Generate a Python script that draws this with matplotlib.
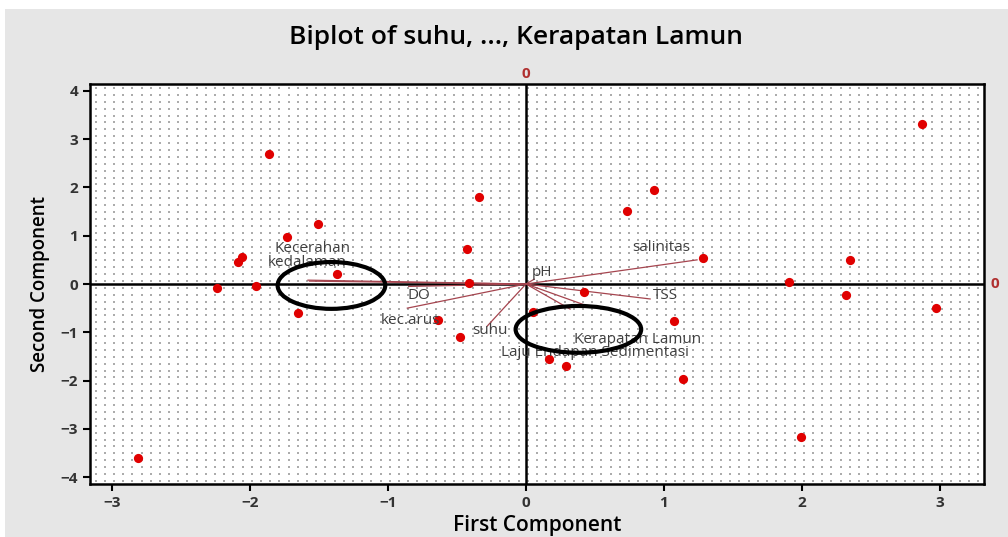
import numpy as np
import matplotlib.pyplot as plt
from matplotlib.patches import Ellipse, Rectangle

# scores (first, second component)
pc1 = [2.87, -1.86, 0.93, -0.34, 0.73, -1.51, -1.73, -0.43, -2.06, -2.09,
       1.28, 2.35, -1.37, -0.41, 1.91, -2.24, -1.96, 2.32, 0.42, 2.97,
       -1.65, -0.64, 0.05, 1.07, -0.48, 0.17, 0.29, 1.14, 1.99, -2.81]
pc2 = [3.32, 2.69, 1.95, 1.80, 1.51, 1.24, 0.97, 0.73, 0.56, 0.46,
       0.54, 0.50, 0.21, 0.02, 0.04, -0.08, -0.04, -0.23, -0.17, -0.50,
       -0.60, -0.75, -0.58, -0.77, -1.10, -1.55, -1.70, -1.97, -3.17, -3.61]

# loading vectors
var_names = ['suhu', 'pH', 'salinitas', 'DO', 'kec.arus', 'Kecerahan',
             'kedalaman', 'TSS', 'Kerapatan Lamun', 'Laju Endapan Sedimentasi']
load1 = [-0.28, 0.06, 1.24, -0.85, -0.86, -1.58, -1.57, 0.90, 0.45, 0.32]
load2 = [-0.87, 0.10, 0.50, -0.05, -0.50, 0.08, 0.06, -0.31, -0.46, -0.52]
# label anchor positions
lab_x = [-0.39, 0.04, 0.77, -0.86, -1.05, -1.82, -1.87, 0.92, 0.35, -0.18]
lab_y = [-0.97, 0.24, 0.75, -0.24, -0.75, 0.73, 0.45, -0.24, -1.14, -1.42]

# ellipses drawn on the chart: centre x, centre y, width, height
ell_x = [-1.41, 0.38]
ell_y = [-0.03, -0.94]
ell_w = [0.78, 0.91]
ell_h = [0.97, 0.97]

fig = plt.figure(figsize=(10.08, 5.37), dpi=100)
fig.patch.set_facecolor('#e6e6e6')
# white margins from the page crop
fig.add_artist(Rectangle((0, 1 - 9 / 537), 1, 9 / 537, transform=fig.transFigure,
                         facecolor='white', edgecolor='none'))
fig.add_artist(Rectangle((0, 0), 5 / 1008, 1, transform=fig.transFigure,
                         facecolor='white', edgecolor='none'))

ax = fig.add_axes([90 / 1008, 1 - 484 / 537, 894 / 1008, 400 / 537])
ax.set_facecolor('white')
ax.set_xlim(-3.16, 3.32)
ax.set_ylim(-4.145, 4.145)

# dotted background grid
gx, gy = np.meshgrid(np.arange(-3.12, 3.32, 1 / 15), np.arange(-4.08, 4.14, 1 / 7))
ax.scatter(gx.ravel(), gy.ravel(), s=1.6, marker='s', color='#acacac',
           linewidths=0, zorder=0)

ax.axhline(0, color='black', lw=1.8, zorder=1)
ax.axvline(0, color='black', lw=1.8, zorder=1)

for x, y in zip(load1, load2):
    ax.plot([0, x], [0, y], color='#a5454f', lw=0.9, zorder=2)

ax.scatter(pc1, pc2, s=44, color='#e00000', linewidths=0, zorder=3)

for name, x, y in zip(var_names, lab_x, lab_y):
    ax.text(x, y, name, fontsize=11, color='#404040', family='Open Sans',
            va='center', ha='left', zorder=4)

for cx, cy, w, h in zip(ell_x, ell_y, ell_w, ell_h):
    ax.add_patch(Ellipse((cx, cy), w, h, fill=False, edgecolor='black', lw=3, zorder=5))

ax.text(0, 4.36, '0', color='#b03030', fontsize=11, family='Open Sans',
        ha='center', va='center', fontweight='bold')
ax.text(3.37, 0, '0', color='#b03030', fontsize=11, family='Open Sans',
        ha='left', va='center', fontweight='bold')

for s in ax.spines.values():
    s.set_linewidth(1.8)
ax.set_xticks([-3, -2, -1, 0, 1, 2, 3])
ax.set_yticks([-4, -3, -2, -1, 0, 1, 2, 3, 4])
ax.tick_params(direction='out', length=5, width=1.5, labelsize=11)
for lbl in ax.get_xticklabels() + ax.get_yticklabels():
    lbl.set_family('Open Sans')
    lbl.set_fontweight('bold')
    lbl.set_color('#333333')

ax.set_xlabel('First Component', fontsize=15, family='Open Sans',
              fontweight='semibold', labelpad=4)
ax.set_ylabel('Second Component', fontsize=13.5, family='Open Sans',
              fontweight='semibold', labelpad=8)
fig.text(516 / 1008, 1 - 37 / 537, 'Biplot of suhu, ..., Kerapatan Lamun',
         fontsize=19, family='Open Sans', fontweight='semibold',
         ha='center', va='center')

fig.savefig('out.png', dpi=100, facecolor=fig.get_facecolor())
